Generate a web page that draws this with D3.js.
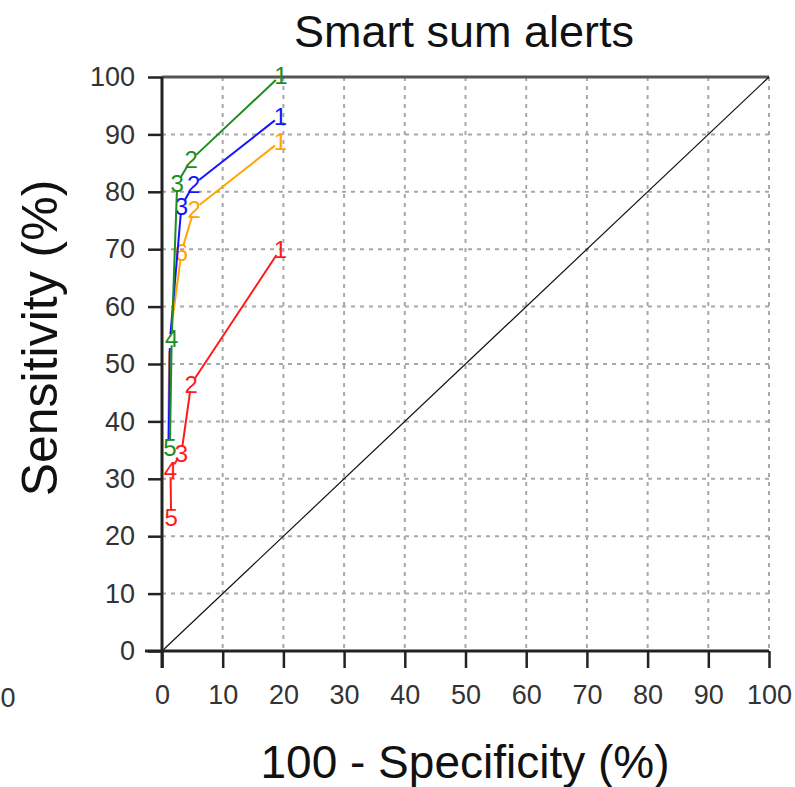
<!DOCTYPE html>
<html>
<head>
<meta charset="utf-8">
<script src="https://cdn.jsdelivr.net/npm/d3@7"></script>
<style>
  body { margin: 0; background: #fff; }
  text { font-family: "Liberation Sans", Arial, sans-serif; }
</style>
</head>
<body>
<div id="chart"></div>
<script>
// ROC points: x = 100 - specificity, y = sensitivity, lab = threshold label
// (an empty label means the label is hidden under another series in the original)
const seriesNames = ["red", "orange", "blue", "green"];
const redPts = [
    {x: 19.5, y: 70.0, lab: "1"}, {x: 4.8, y: 46.5, lab: "2"}, {x: 3.2, y: 34.5, lab: "3"},
    {x: 1.4, y: 31.5, lab: "4"}, {x: 1.5, y: 23.3, lab: "5"}
];
const orangePts = [
    {x: 19.5, y: 88.8, lab: "1"}, {x: 5.3, y: 77.0, lab: "2"}, {x: 3.2, y: 69.5, lab: "6"},
    {x: 1.2, y: 53.5, lab: ""}, {x: 1.0, y: 35.3, lab: ""}
];
const bluePts = [
    {x: 19.5, y: 93.2, lab: "1"}, {x: 5.2, y: 81.3, lab: "2"}, {x: 3.2, y: 77.5, lab: "3"},
    {x: 1.3, y: 54.0, lab: ""}, {x: 1.1, y: 35.5, lab: ""}
];
const greenPts = [
    {x: 19.6, y: 100.3, lab: "1"}, {x: 4.8, y: 85.6, lab: "2"}, {x: 2.5, y: 81.5, lab: "3"},
    {x: 1.6, y: 54.5, lab: "4"}, {x: 1.3, y: 35.5, lab: "5"}
];
const tickVals = [0, 10, 20, 30, 40, 50, 60, 70, 80, 90, 100];

const seriesColor = {red: "#ff1a1a", orange: "#ffa500", blue: "#1414ff", green: "#1e8c1e"};
const seriesPts = {red: redPts, orange: orangePts, blue: bluePts, green: greenPts};

const W = 795, H = 787;
const margin = {top: 77, right: 26, bottom: 136, left: 162};
const width = W - margin.left - margin.right;
const height = H - margin.top - margin.bottom;

const svg = d3.select("#chart").append("svg")
    .attr("width", W)
    .attr("height", H);

const g = svg.append("g")
    .attr("transform", "translate(" + margin.left + "," + margin.top + ")");

const x = d3.scaleLinear().domain([0, 100]).range([0, width]);
const y = d3.scaleLinear().domain([0, 100]).range([height, 0]);

// grid
g.append("g").selectAll("line.vg")
    .data(tickVals.slice(1))
    .enter().append("line")
    .attr("x1", d => x(d)).attr("x2", d => x(d))
    .attr("y1", 0).attr("y2", height)
    .attr("stroke", "#a8a8a8").attr("stroke-width", 2)
    .attr("stroke-dasharray", "4,5");

g.append("g").selectAll("line.hg")
    .data(tickVals.slice(1, -1))
    .enter().append("line")
    .attr("x1", 0).attr("x2", width)
    .attr("y1", d => y(d)).attr("y2", d => y(d))
    .attr("stroke", "#a8a8a8").attr("stroke-width", 2)
    .attr("stroke-dasharray", "4,5");

// top border
g.append("line")
    .attr("x1", 0).attr("x2", width)
    .attr("y1", 0).attr("y2", 0)
    .attr("stroke", "#555").attr("stroke-width", 3);

// diagonal reference
g.append("line")
    .attr("x1", x(0)).attr("y1", y(0))
    .attr("x2", x(100)).attr("y2", y(100))
    .attr("stroke", "#111").attr("stroke-width", 1.2);

// axes
const xAxis = g.append("g")
    .attr("transform", "translate(0," + height + ")")
    .call(d3.axisBottom(x).tickValues(tickVals).tickSize(17).tickSizeOuter(0).tickPadding(17));

const yAxis = g.append("g")
    .call(d3.axisLeft(y).tickValues(tickVals).tickSize(14).tickSizeOuter(0).tickPadding(13));

[xAxis, yAxis].forEach(a => {
    a.select(".domain").remove();
    a.selectAll(".tick line").attr("stroke", "#222").attr("stroke-width", 2.5);
    a.selectAll(".tick text")
        .attr("fill", "#333")
        .style("font-size", "27px");
});

// axis lines, extended past origin like the reference
g.append("line")
    .attr("x1", -17).attr("x2", width)
    .attr("y1", height).attr("y2", height)
    .attr("stroke", "#222").attr("stroke-width", 3);
g.append("line")
    .attr("x1", 0).attr("x2", 0)
    .attr("y1", 0).attr("y2", height + 17)
    .attr("stroke", "#222").attr("stroke-width", 3);

// stray label at far left
svg.append("text")
    .attr("x", 8).attr("y", 707)
    .attr("text-anchor", "middle")
    .attr("fill", "#333")
    .style("font-size", "27px")
    .text("0");

// series: segments with gaps around the labels (like type = "b")
const gap = 7;
seriesNames.forEach(name => {
    const pts = seriesPts[name];
    const col = seriesColor[name];
    const sg = g.append("g");

    for (let i = 0; i < pts.length - 1; i++) {
        const x1 = x(pts[i].x), y1 = y(pts[i].y);
        const x2 = x(pts[i + 1].x), y2 = y(pts[i + 1].y);
        const len = Math.hypot(x2 - x1, y2 - y1);
        if (len <= 2 * gap) continue;
        const ux = (x2 - x1) / len, uy = (y2 - y1) / len;
        sg.append("line")
            .attr("x1", x1 + ux * gap).attr("y1", y1 + uy * gap)
            .attr("x2", x2 - ux * gap).attr("y2", y2 - uy * gap)
            .attr("stroke", col).attr("stroke-width", 2);
    }

    sg.selectAll("text")
        .data(pts.filter(d => d.lab !== ""))
        .enter().append("text")
        .attr("x", d => x(d.x))
        .attr("y", d => y(d.y))
        .attr("dy", "0.36em")
        .attr("text-anchor", "middle")
        .attr("fill", col)
        .style("font-size", "24px")
        .text(d => d.lab);
});

// titles
svg.append("text")
    .attr("x", 464).attr("y", 47)
    .attr("text-anchor", "middle")
    .attr("fill", "#111")
    .style("font-size", "45px")
    .text("Smart sum alerts");

svg.append("text")
    .attr("x", 465).attr("y", 778)
    .attr("text-anchor", "middle")
    .attr("fill", "#111")
    .style("font-size", "46px")
    .text("100 - Specificity (%)");

svg.append("text")
    .attr("transform", "translate(57,338) rotate(-90)")
    .attr("text-anchor", "middle")
    .attr("fill", "#111")
    .style("font-size", "50px")
    .text("Sensitivity (%)");
</script>
</body>
</html>
